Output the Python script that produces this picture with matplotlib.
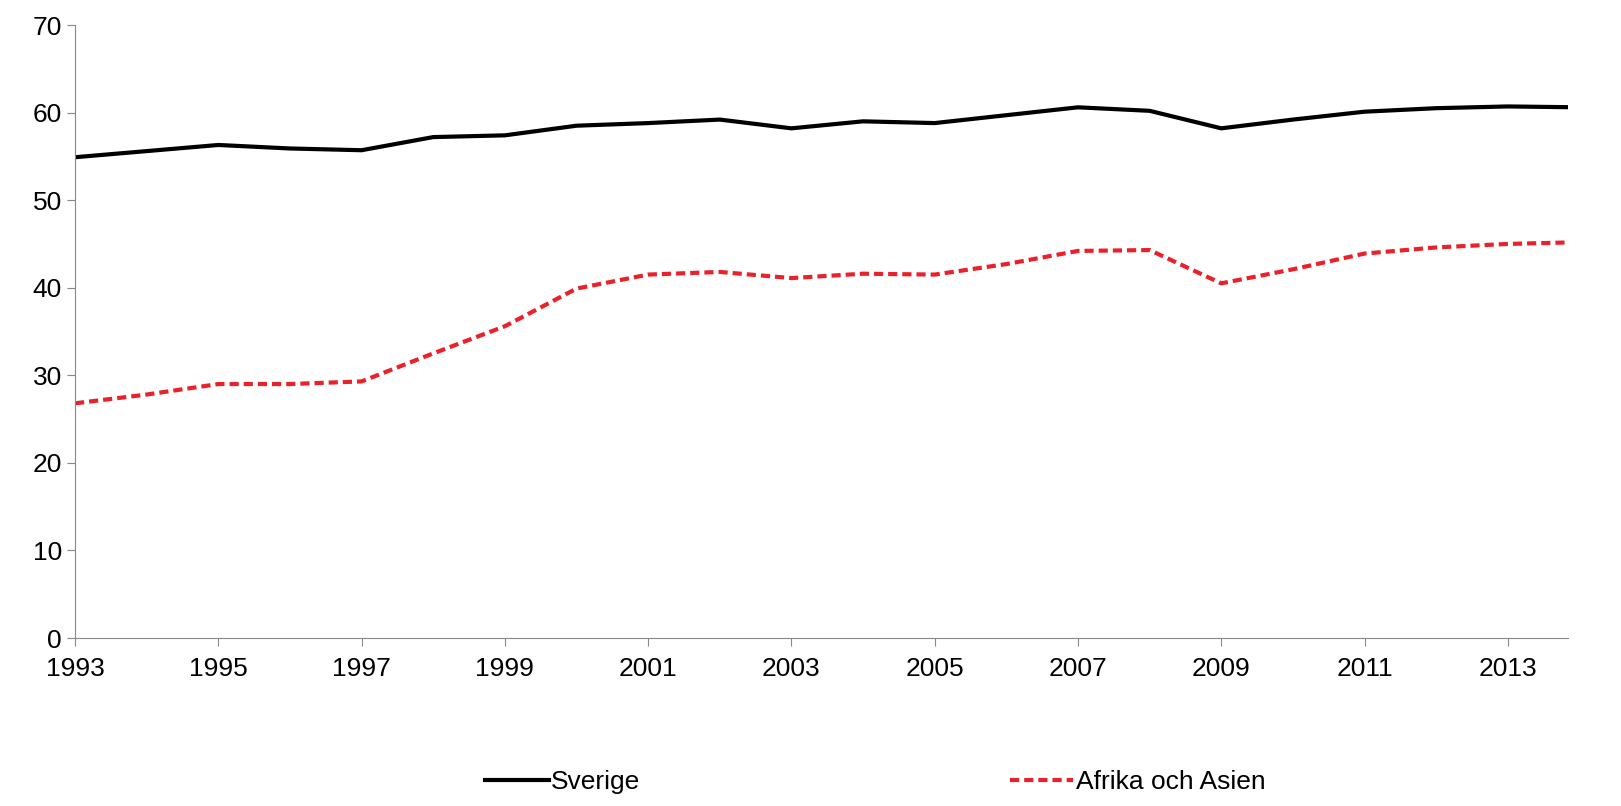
import matplotlib
matplotlib.use('Agg')
import matplotlib.pyplot as plt

years = list(range(1993, 2015))
sverige = [54.9, 55.6, 56.3, 55.9, 55.7, 57.2, 57.4, 58.5, 58.8, 59.2, 58.2,
           59.0, 58.8, 59.7, 60.6, 60.2, 58.2, 59.2, 60.1, 60.5, 60.7, 60.6]
afrika_asien = [26.8, 27.8, 29.0, 29.0, 29.3, 32.5, 35.6, 39.9, 41.5, 41.8, 41.1,
                41.6, 41.5, 42.7, 44.2, 44.3, 40.5, 42.1, 43.9, 44.6, 45.0, 45.2]
xticks = list(range(1993, 2015, 2))

plt.rcParams['font.family'] = ['Liberation Sans', 'DejaVu Sans']

fig = plt.figure(figsize=(16.21, 8.06), dpi=100)
ax = fig.add_axes([75/1621, 1-638/806, (1568-75)/1621, (638-25)/806])
ax.plot(years, sverige, color='black', lw=3, label='Sverige')
ax.plot(years, afrika_asien, color='#e8212a', lw=3, ls=(0, (2.2, 1.2)), label='Afrika och Asien')
ax.set_xlim(1993, 2013.84)
ax.set_ylim(0, 70)
ax.set_yticks(range(0, 71, 10))
ax.set_xticks(xticks)
ax.tick_params(labelsize=19, direction='out', length=6, color='#888888')
ax.tick_params(axis='x', pad=8)
for s in ['top', 'right']:
    ax.spines[s].set_visible(False)
for s in ['left', 'bottom']:
    ax.spines[s].set_color('#888888')
fig.legend(loc='lower center', bbox_to_anchor=(0.54, -0.015), ncol=2, frameon=False,
           fontsize=19, columnspacing=14, handlelength=2.4, handletextpad=0.1)
fig.savefig('out.png', dpi=100)
